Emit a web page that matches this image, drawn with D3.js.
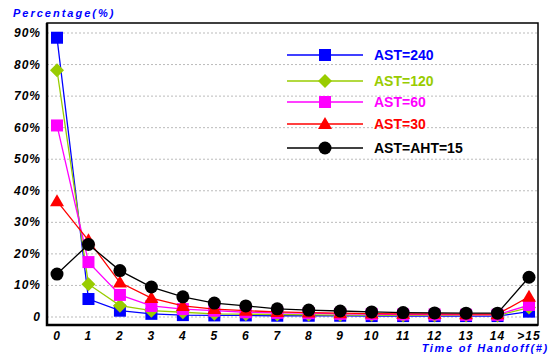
<!DOCTYPE html>
<html>
<head>
<meta charset="utf-8">
<script src="https://cdn.jsdelivr.net/npm/d3@7"></script>
<style>
body { margin: 0; background: #fff; }
svg { display: block; }
.tick-lbl { font-family: Arial, "Liberation Sans", sans-serif; font-weight: bold; font-style: italic; font-size: 12px; letter-spacing: 1px; }
.ax-title { font-family: Arial, "Liberation Sans", sans-serif; font-weight: bold; font-style: italic; font-size: 11px; letter-spacing: 2px; fill: #0000ff; }
.leg { font-family: Arial, "Liberation Sans", sans-serif; font-weight: bold; font-size: 14px; }
</style>
</head>
<body>
<div id="chart"></div>
<script>
var categories = ['0','1','2','3','4','5','6','7','8','9','10','11','12','13','14','>15'];
var yTicks = [0, 10, 20, 30, 40, 50, 60, 70, 80, 90];

var ast240 = [88.5, 5.7, 2.0, 1.0, 0.6, 0.5, 0.5, 0.4, 0.4, 0.4, 0.3, 0.3, 0.3, 0.3, 0.3, 1.7];
var ast120 = [78.2, 10.4, 3.6, 2.0, 1.5, 1.0, 0.9, 0.8, 0.7, 0.6, 0.6, 0.5, 0.5, 0.5, 0.5, 3.0];
var ast60  = [60.7, 17.4, 7.0, 3.5, 2.5, 2.0, 1.5, 1.3, 1.2, 1.0, 0.9, 0.8, 0.8, 0.7, 0.7, 3.8];
var ast30  = [36.7, 24.3, 10.9, 6.0, 3.5, 2.5, 2.0, 1.6, 1.4, 1.2, 1.1, 1.0, 1.0, 0.9, 0.9, 6.4];
var ast15  = [13.6, 23.0, 14.7, 9.5, 6.4, 4.4, 3.5, 2.6, 2.2, 1.9, 1.6, 1.4, 1.3, 1.2, 1.2, 12.6];

var series = [
  {name: 'AST=240', values: ast240, color: '#0000ff', shape: 'square'},
  {name: 'AST=120', values: ast120, color: '#99cc00', shape: 'diamond'},
  {name: 'AST=60', values: ast60, color: '#ff00ff', shape: 'square'},
  {name: 'AST=30', values: ast30, color: '#ff0000', shape: 'triangle'},
  {name: 'AST=AHT=15', values: ast15, color: '#000000', shape: 'circle'}
];

var width = 551, height = 358;
var svg = d3.select('#chart').append('svg')
    .attr('width', width)
    .attr('height', height);

var box = {left: 47, top: 23, right: 538, bottom: 325};

var x = d3.scalePoint()
    .domain(categories)
    .range([57, 529]);

var y = d3.scaleLinear()
    .domain([0, 90])
    .range([317, 33]);

// gridlines
svg.append('g').selectAll('line')
    .data(yTicks)
    .join('line')
    .attr('x1', box.left)
    .attr('x2', box.right)
    .attr('y1', d => y(d))
    .attr('y2', d => y(d))
    .attr('stroke', '#bbb')
    .attr('stroke-width', 1)
    .attr('stroke-dasharray', '2,2');

// frame
svg.append('rect')
    .attr('x', box.left)
    .attr('y', box.top)
    .attr('width', box.right - box.left)
    .attr('height', box.bottom - box.top)
    .attr('fill', 'none')
    .attr('stroke', '#000')
    .attr('stroke-width', 1.5);
svg.append('path')
    .attr('d', `M${box.left},${box.top}V${box.bottom}H${box.right}`)
    .attr('fill', 'none')
    .attr('stroke', '#000')
    .attr('stroke-width', 2.5);

// y labels
svg.append('g').selectAll('text')
    .data(yTicks)
    .join('text')
    .attr('class', 'tick-lbl')
    .attr('x', 41)
    .attr('y', d => y(d) + 4)
    .attr('text-anchor', 'end')
    .text(d => d === 0 ? '0' : d + '%');

// x labels
svg.append('g').selectAll('text')
    .data(categories)
    .join('text')
    .attr('class', 'tick-lbl')
    .attr('x', d => x(d))
    .attr('y', 340)
    .attr('text-anchor', 'middle')
    .text(d => d);

svg.append('text')
    .attr('class', 'ax-title')
    .attr('x', 13)
    .attr('y', 17)
    .text('Percentage(%)');

svg.append('text')
    .attr('class', 'ax-title')
    .attr('x', 549)
    .attr('y', 352)
    .attr('text-anchor', 'end')
    .style('letter-spacing', '1.7px')
    .text('Time of Handoff(#)');

function marker(g, shape, color) {
  if (shape === 'square') {
    g.append('rect').attr('x', -6).attr('y', -6).attr('width', 12).attr('height', 12).attr('fill', color);
  } else if (shape === 'diamond') {
    g.append('path').attr('d', 'M0,-7L7,0L0,7L-7,0Z').attr('fill', color);
  } else if (shape === 'triangle') {
    g.append('path').attr('d', 'M0,-7L7,5L-7,5Z').attr('fill', color);
  } else {
    g.append('circle').attr('r', 6.5).attr('fill', color);
  }
}

var line = d3.line()
    .x((d, i) => x(categories[i]))
    .y(d => y(d));

series.forEach(function(s) {
  var g = svg.append('g');
  g.append('path')
    .datum(s.values)
    .attr('d', line)
    .attr('fill', 'none')
    .attr('stroke', s.color)
    .attr('stroke-width', 1.3);
  s.values.forEach(function(v, i) {
    var m = g.append('g').attr('transform', `translate(${x(categories[i])},${y(v)})`);
    marker(m, s.shape, s.color);
  });
});

// legend
var legY = [55, 81, 102, 124, 148];
series.forEach(function(s, i) {
  var g = svg.append('g').attr('transform', `translate(0,${legY[i]})`);
  g.append('line')
    .attr('x1', 287).attr('x2', 363)
    .attr('stroke', s.color).attr('stroke-width', 1.5);
  var m = g.append('g').attr('transform', 'translate(325,0)');
  marker(m, s.shape, s.color);
  g.append('text')
    .attr('class', 'leg')
    .attr('x', 374)
    .attr('y', 5)
    .attr('fill', s.color)
    .text(s.name);
});
</script>
</body>
</html>
